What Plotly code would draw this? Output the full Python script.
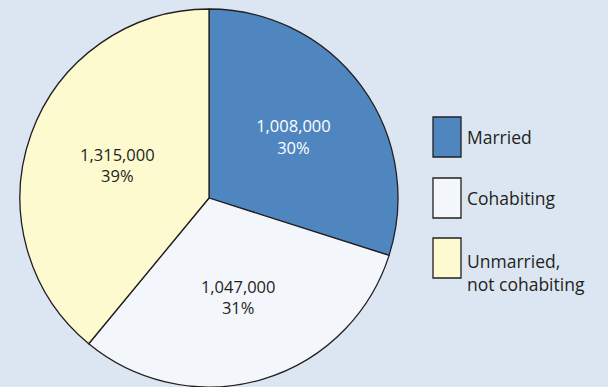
import plotly.graph_objects as go

categories = ["Married", "Cohabiting", "Unmarried,<br>not cohabiting"]
values = [1008000, 1047000, 1315000]
colors = ["#4f86c0", "#f3f6fb", "#fdfad0"]
text_colors = ["#ffffff", "#231f20", "#231f20"]

BG = "#dce6f3"
W, H = 608, 387

fig = go.Figure()
fig.add_trace(go.Pie(
    labels=categories,
    values=values,
    sort=False,
    direction="clockwise",
    rotation=0,
    marker=dict(colors=colors, line=dict(color="#231f20", width=1.3)),
    texttemplate="%{value:,}<br>%{percent:.0%}",
    textposition="inside",
    insidetextorientation="horizontal",
    textfont=dict(family="Open Sans, sans-serif", size=16.5, color=text_colors),
    hoverinfo="label+value+percent",
    domain=dict(x=[18 / W, 400 / W], y=[0, 1 - 9 / H]),
    showlegend=False,
))

# custom legend with large boxes
box_x0, box_x1 = 433, 461
box_tops = [117, 178, 238]
box_h = 40
for i, (cat, col) in enumerate(zip(categories, colors)):
    y0 = box_tops[i]
    fig.add_shape(type="rect", xref="paper", yref="paper",
                  x0=box_x0 / W, x1=box_x1 / W,
                  y0=1 - (y0 + box_h) / H, y1=1 - y0 / H,
                  fillcolor=col, line=dict(color="#231f20", width=1.3))
    fig.add_annotation(xref="paper", yref="paper",
                       x=465 / W, y=1 - (y0 + box_h / 2 + (14 if i == 2 else 0)) / H,
                       xanchor="left", yanchor="middle", align="left",
                       text=cat, showarrow=False,
                       font=dict(family="Open Sans, sans-serif", size=17.5, color="#231f20"))

fig.update_layout(
    width=W, height=H,
    margin=dict(l=0, r=0, t=0, b=0),
    paper_bgcolor=BG,
    plot_bgcolor=BG,
)

fig.write_html("out.html", config={"displayModeBar": False},
               post_script="document.body.style.margin='0';document.body.style.background='%s';" % BG)
